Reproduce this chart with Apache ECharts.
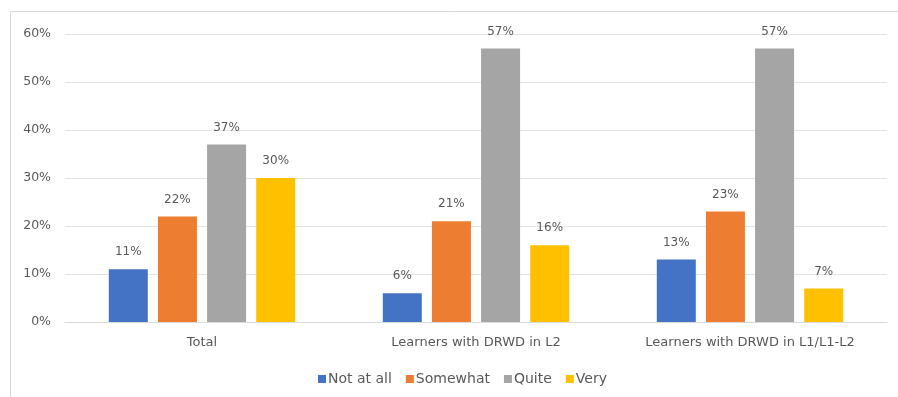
<!DOCTYPE html>
<html>
<head>
<meta charset="utf-8">
<script src="https://cdn.jsdelivr.net/npm/echarts@6/dist/echarts.min.js"></script>
<style>
html,body{margin:0;padding:0;background:#fff;}
#c{width:898px;height:397px;}
</style>
</head>
<body>
<div id="c"></div>
<script>
const categories = ['Total', 'Learners with DRWD in L2', 'Learners with DRWD in L1/L1-L2'];
const seriesNames = ['Not at all', 'Somewhat', 'Quite', 'Very'];
const notAtAll = [11, 6, 13];
const somewhat = [22, 21, 23];
const quite = [37, 57, 57];
const very = [30, 16, 7];
const yTicks = [0, 10, 20, 30, 40, 50, 60];
const colors = ['#4472C4', '#ED7D31', '#A5A5A5', '#FFC000'];
const values = [notAtAll, somewhat, quite, very];

const textColor = '#595959';
const font = 'DejaVu Sans';

const chart = echarts.init(document.getElementById('c'));
chart.setOption({
  animation: false,
  color: colors,
  graphic: [{
    type: 'rect',
    shape: {x: 10.5, y: 11.5, width: 1000, height: 1000},
    style: {fill: 'none', stroke: '#d9d9d9', lineWidth: 1},
    silent: true
  }],
  grid: {left: 65, right: 11, top: 34, bottom: 75, containLabel: false},
  legend: {
    top: 372,
    left: 318,
    padding: 0,
    itemWidth: 8,
    itemHeight: 8,
    itemGap: 14,
    icon: 'rect',
    textStyle: {color: textColor, fontSize: 14, fontFamily: font, padding: [0, 0, 0, -3]},
    data: seriesNames
  },
  xAxis: {
    type: 'category',
    data: categories,
    axisLine: {lineStyle: {color: '#d9d9d9'}},
    axisTick: {show: false},
    axisLabel: {color: textColor, fontSize: 13, fontFamily: font, margin: 14}
  },
  yAxis: {
    type: 'value',
    min: yTicks[0],
    max: yTicks[yTicks.length - 1],
    interval: 10,
    axisLine: {show: false},
    axisTick: {show: false},
    splitLine: {lineStyle: {color: '#e3e3e3'}},
    axisLabel: {color: textColor, fontSize: 12.5, fontFamily: font, margin: 14, formatter: v => v + '%'}
  },
  series: seriesNames.map((name, i) => ({
    name: name,
    type: 'bar',
    data: values[i],
    barWidth: 39,
    barGap: '26%',
    label: {
      show: true,
      position: 'top',
      distance: 11,
      color: textColor,
      fontSize: 12,
      fontFamily: font,
      formatter: p => p.value + '%'
    }
  }))
});
</script>
</body>
</html>
